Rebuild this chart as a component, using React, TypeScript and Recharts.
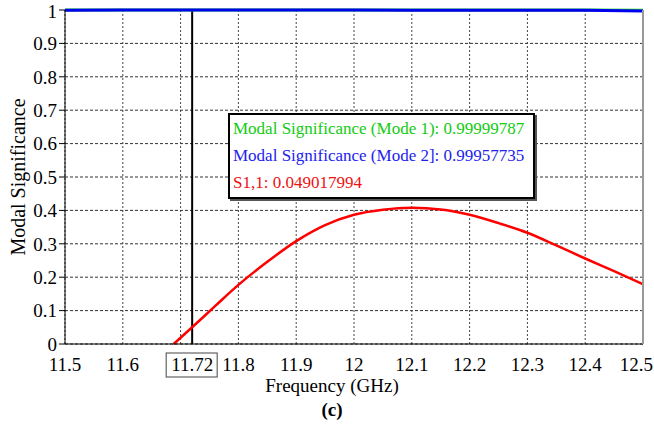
import React from 'react'
import {
  LineChart,
  Line,
  XAxis,
  YAxis,
  CartesianGrid,
  ReferenceLine,
  Legend
} from 'recharts'

// Frequency grid (GHz) for the two modal significance traces
const freqModes = [11.5, 11.6, 11.7, 11.8, 11.9, 12.0, 12.1, 12.2, 12.3, 12.4, 12.5]
const mode1 = [1, 1, 1, 1, 1, 1, 1, 1, 1, 1, 0.9995]
const mode2 = [0.9995, 0.9999, 1, 1, 1, 1, 0.9995, 0.999, 0.999, 0.999, 0.997]

// S1,1 trace
const freqS11 = [11.688, 11.72, 11.76, 11.8, 11.85, 11.9, 11.95, 12.0, 12.05, 12.1, 12.15, 12.2, 12.25, 12.3, 12.35, 12.4, 12.45, 12.5]
const s11 = [0, 0.05, 0.114, 0.177, 0.246, 0.308, 0.356, 0.387, 0.402, 0.408, 0.403, 0.387, 0.362, 0.333, 0.295, 0.256, 0.218, 0.179]

const xTicks = [11.5, 11.6, 11.7, 11.8, 11.9, 12.0, 12.1, 12.2, 12.3, 12.4, 12.5]
const yTicks = [0, 0.1, 0.2, 0.3, 0.4, 0.5, 0.6, 0.7, 0.8, 0.9, 1]
const markerFreq = 11.72
const hiddenTick = 11.7
const lastTick = 12.5

const legendLines = [
  { text: 'Modal Significance (Mode 1): 0.99999787', color: '#11cc11' },
  { text: 'Modal Significance (Mode 2]: 0.99957735', color: '#2222ee' },
  { text: 'S1,1: 0.049017994', color: '#ee1111' }
]

const serif = '"Liberation Serif", "DejaVu Serif", serif'

const mode1Data = freqModes.map((f, i) => ({ f, v: mode1[i] }))
const mode2Data = freqModes.map((f, i) => ({ f, v: mode2[i] }))
const s11Data = freqS11.map((f, i) => ({ f, v: s11[i] }))

const XTick = ({ x, payload }: any) => {
  if (payload.value === hiddenTick) return <g />
  // last label hangs against the right edge in the original
  const isLast = payload.value === lastTick
  return (
    <text
      x={isLast ? 653 : x}
      y={371}
      textAnchor={isLast ? 'end' : 'middle'}
      fill="#000"
      fontSize={19}
      style={{ fontFamily: serif }}
    >
      {payload.value}
    </text>
  )
}

const MarkerLabel = ({ viewBox }: any) => {
  const cx = viewBox.x
  return (
    <g>
      <rect x={cx - 26} y={353} width={51} height={24} fill="none" stroke="#444" strokeWidth={1} />
      <text x={cx} y={371} textAnchor="middle" fill="#000" fontSize={19} style={{ fontFamily: serif }}>
        {markerFreq}
      </text>
    </g>
  )
}

const AxisTitles = () => (
  <g fill="#000" style={{ fontFamily: serif }}>
    <text x={332} y={392} textAnchor="middle" fontSize={19}>Frequency (GHz)</text>
    <text x={332} y={416} textAnchor="middle" fontSize={19} fontWeight="bold">(c)</text>
  </g>
)

const LegendBox = () => (
  <div
    style={{
      boxSizing: 'border-box',
      width: 307,
      height: 86,
      border: '2px solid #000',
      boxShadow: '2px 2px 0 #555',
      background: '#fff',
      padding: '0 3px',
      fontFamily: serif,
      fontSize: 17,
      lineHeight: '27px',
      whiteSpace: 'nowrap'
    }}
  >
    {legendLines.map((l) => (
      <div key={l.text} style={{ color: l.color }}>{l.text}</div>
    ))}
  </div>
)

export default function App() {
  return (
    <div style={{ position: 'absolute', left: 0, top: 0, width: 654, height: 429, background: '#fff', fontFamily: serif }}>
      <LineChart width={654} height={429} margin={{ top: 10, right: 0, left: 0, bottom: 0 }}>
        <CartesianGrid yAxisId="left" vertical={false} stroke="#333" strokeDasharray="3 2" />
        <CartesianGrid yAxisId="left" horizontal={false} stroke="#444" strokeDasharray="2 2" />
        <XAxis
          dataKey="f"
          type="number"
          domain={[11.5, 12.5]}
          ticks={xTicks}
          height={85}
          axisLine={{ stroke: '#000' }}
          tickLine={false}
          tick={<XTick />}
          label={{ content: <AxisTitles /> }}
          allowDuplicatedCategory={false}
        />
        <YAxis
          yAxisId="left"
          type="number"
          domain={[0, 1]}
          ticks={yTicks}
          width={65}
          axisLine={{ stroke: '#000' }}
          tickLine={{ stroke: '#000' }}
          tickSize={6}
          tickMargin={2}
          tick={{ fill: '#000', fontSize: 19, style: { fontFamily: serif } }}
          tickFormatter={(v: number) => (v === 0 || v === 1 ? String(v) : v.toFixed(1))}
          label={{
            value: 'Modal Significance',
            angle: -90,
            position: 'insideLeft',
            offset: 18,
            style: { fontFamily: serif, fontSize: 20, fill: '#000', textAnchor: 'middle' }
          }}
        />
        <YAxis
          yAxisId="right"
          orientation="right"
          domain={[0, 1]}
          width={11}
          tick={false}
          tickLine={false}
          axisLine={{ stroke: '#999', strokeWidth: 2 }}
        />
        <Legend
          layout="vertical"
          align="center"
          verticalAlign="middle"
          content={<LegendBox />}
          wrapperStyle={{ left: 228, top: 113, width: 'auto', height: 'auto' }}
        />
        <ReferenceLine yAxisId="left" x={markerFreq} stroke="#000" strokeWidth={2} label={<MarkerLabel />} />
        <Line
          yAxisId="left"
          data={mode1Data}
          dataKey="v"
          type="linear"
          stroke="#22dd22"
          strokeWidth={3}
          dot={false}
          isAnimationActive={false}
        />
        <Line
          yAxisId="left"
          data={mode2Data}
          dataKey="v"
          type="linear"
          stroke="#0000ee"
          strokeWidth={3}
          dot={false}
          isAnimationActive={false}
        />
        <Line
          yAxisId="left"
          data={s11Data}
          dataKey="v"
          type="monotone"
          stroke="#ff0000"
          strokeWidth={2.5}
          dot={false}
          isAnimationActive={false}
        />
      </LineChart>
    </div>
  )
}
